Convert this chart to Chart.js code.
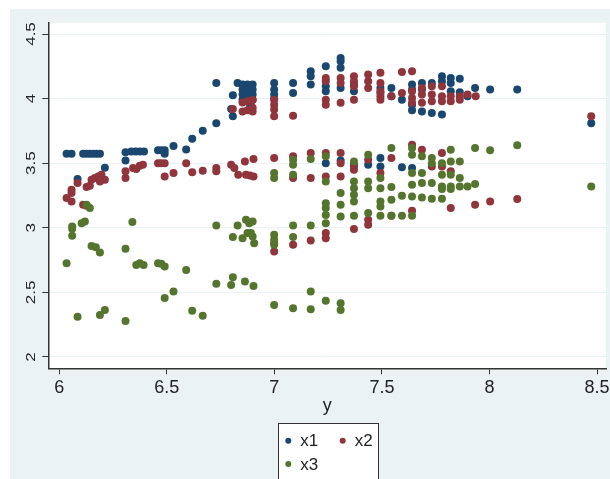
<!DOCTYPE html>
<html>
<head>
<meta charset="utf-8">
<script src="https://cdn.jsdelivr.net/npm/chart.js@4.4.1/dist/chart.umd.min.js"></script>
<style>
  body { margin: 0; background: #fff; }
  #wrap { width: 610px; height: 479px; }
</style>
</head>
<body>
<div id="wrap"><canvas id="scatterChart" width="610" height="479"></canvas></div>
<script>
// points are [y, value] pairs, y on the horizontal axis
const x1 = [
    [6.034, 3.574], [6.057, 3.574], [6.111, 3.574], [6.127, 3.574], [6.142, 3.574], [6.157, 3.574], [6.173, 3.574], [6.189, 3.574],
    [6.085, 3.377], [6.212, 3.465], [6.308, 3.584], [6.308, 3.52],
    [6.335, 3.59], [6.355, 3.59], [6.374, 3.59], [6.394, 3.59],
    [6.459, 3.6], [6.474, 3.6], [6.49, 3.6], [6.49, 3.574],
    [6.531, 3.633], [6.59, 3.607], [6.618, 3.69], [6.667, 3.752], [6.73, 3.809], [6.73, 4.12],
    [6.807, 4.026], [6.799, 3.92], [6.807, 3.863], [6.829, 4.12],
    [6.852, 4.109], [6.875, 4.109], [6.899, 4.109], [6.852, 4.07], [6.875, 4.07], [6.899, 4.07],
    [6.852, 4.031], [6.875, 4.031], [6.899, 4.031], [6.852, 3.992], [6.875, 3.992], [6.899, 3.992], [6.887, 3.953],
    [6.999, 4.12], [6.999, 4.07], [6.999, 4.031], [6.999, 4.0],
    [7.087, 4.12], [7.087, 4.044],
    [7.169, 4.212], [7.169, 4.173], [7.169, 4.109],
    [7.239, 4.25], [7.239, 4.095], [7.239, 4.057],
    [7.308, 4.315], [7.308, 4.289], [7.308, 4.238], [7.308, 4.083],
    [7.37, 4.109], [7.37, 4.057],
    [7.493, 4.083], [7.493, 4.044], [7.544, 4.083], [7.544, 4.018], [7.593, 3.992],
    [7.64, 4.109], [7.64, 4.07], [7.64, 3.953], [7.64, 3.91],
    [7.686, 4.12], [7.686, 4.07], [7.686, 3.901],
    [7.732, 4.12], [7.732, 3.889],
    [7.779, 4.173], [7.779, 4.134], [7.779, 3.876],
    [7.82, 4.16], [7.82, 4.12], [7.82, 4.057],
    [7.862, 4.153], [7.862, 4.049], [7.898, 4.018], [7.933, 4.083],
    [8.003, 4.07], [8.129, 4.07], [8.473, 3.81],
    [7.239, 3.5], [7.308, 3.52], [7.37, 3.488], [7.436, 3.488], [7.493, 3.54], [7.493, 3.475], [7.593, 3.468], [7.64, 3.463]
];
const x2 = [
    [6.034, 3.23], [6.057, 3.295], [6.057, 3.269], [6.057, 3.204], [6.085, 3.346], [6.111, 3.178], [6.127, 3.17],
    [6.127, 3.315], [6.142, 3.326], [6.15, 3.372], [6.165, 3.385], [6.181, 3.398], [6.196, 3.411], [6.189, 3.359], [6.212, 3.372],
    [6.308, 3.437], [6.308, 3.385], [6.343, 3.463], [6.358, 3.455], [6.374, 3.481], [6.389, 3.488],
    [6.459, 3.5], [6.474, 3.5], [6.49, 3.5], [6.49, 3.398], [6.531, 3.424], [6.59, 3.5], [6.618, 3.429], [6.667, 3.442],
    [6.73, 3.463], [6.73, 3.437], [6.799, 3.488], [6.814, 3.463], [6.832, 3.411], [6.807, 3.92],
    [6.863, 3.514], [6.868, 3.411], [6.886, 3.405], [6.903, 3.398], [6.903, 3.532],
    [6.852, 3.97], [6.875, 3.98], [6.899, 3.99], [6.852, 3.9], [6.875, 3.91], [6.899, 3.93], [6.899, 3.9],
    [6.999, 3.992], [6.999, 3.953], [6.999, 3.915], [6.999, 3.863], [7.087, 3.868],
    [7.239, 4.16], [7.239, 4.134], [7.239, 3.992], [7.239, 3.953],
    [7.308, 4.16], [7.308, 4.12], [7.308, 3.967],
    [7.37, 4.173], [7.37, 4.134], [7.37, 4.095], [7.37, 3.992],
    [7.436, 4.186], [7.436, 4.134], [7.436, 4.083],
    [7.493, 4.2], [7.493, 4.12], [7.493, 4.057], [7.493, 4.018], [7.493, 3.992],
    [7.544, 4.018], [7.593, 4.205], [7.593, 4.044],
    [7.64, 4.212], [7.64, 4.057], [7.64, 4.005], [7.64, 3.967],
    [7.686, 4.083], [7.686, 4.031], [7.686, 3.967],
    [7.732, 4.095], [7.732, 4.031], [7.732, 3.979],
    [7.779, 4.095], [7.779, 4.018], [7.779, 3.979],
    [7.82, 4.018], [7.82, 3.979], [7.862, 4.018], [7.862, 3.992], [7.898, 4.031], [7.936, 4.018],
    [8.473, 3.863],
    [6.999, 3.54], [7.087, 3.553], [7.087, 3.385], [7.169, 3.579], [7.169, 3.385], [7.239, 3.579], [7.239, 3.398],
    [7.308, 3.579], [7.308, 3.5], [7.308, 3.398], [7.37, 3.475], [7.37, 3.45], [7.436, 3.527], [7.493, 3.424],
    [7.544, 3.54], [7.64, 3.643], [7.686, 3.605], [7.732, 3.475], [7.779, 3.579], [7.779, 3.475], [7.82, 3.437],
    [6.999, 2.881], [6.999, 2.816], [7.087, 2.868], [7.169, 2.902], [7.239, 2.959], [7.239, 2.92], [7.37, 2.99],
    [7.436, 3.062], [7.436, 3.023], [7.544, 3.093], [7.64, 3.132], [7.82, 3.153], [7.933, 3.178], [8.003, 3.204], [8.129, 3.222]
];
const x3 = [
    [6.127, 3.178], [6.142, 3.153], [6.06, 3.01], [6.06, 2.992], [6.06, 2.938], [6.104, 3.036], [6.119, 3.049], [6.34, 3.044],
    [6.034, 2.726], [6.15, 2.86], [6.17, 2.85], [6.189, 2.808], [6.308, 2.837],
    [6.358, 2.713], [6.374, 2.726], [6.392, 2.713], [6.459, 2.726], [6.474, 2.721], [6.49, 2.7], [6.59, 2.674],
    [6.49, 2.457], [6.531, 2.506], [6.085, 2.312], [6.189, 2.326], [6.212, 2.364], [6.308, 2.279], [6.618, 2.357], [6.667, 2.32],
    [6.73, 3.018], [6.73, 2.566], [6.799, 2.558], [6.807, 2.618], [6.807, 2.928], [6.829, 3.018],
    [6.852, 2.92], [6.868, 3.062], [6.883, 3.036], [6.899, 3.049], [6.899, 2.933], [6.906, 2.881], [6.875, 2.959], [6.891, 2.959],
    [6.863, 2.584], [6.903, 2.55],
    [6.999, 2.946], [6.999, 2.907], [6.999, 2.868], [6.999, 2.403],
    [7.087, 3.018], [7.087, 2.928], [7.087, 2.377],
    [7.169, 3.018], [7.169, 2.506], [7.169, 2.369],
    [7.239, 2.436], [7.308, 2.416], [7.308, 2.364],
    [6.999, 3.424], [6.999, 3.385], [7.087, 3.527], [7.087, 3.488], [7.087, 3.411], [7.169, 3.532], [7.239, 3.553], [7.239, 3.359],
    [7.308, 3.269], [7.308, 3.178], [7.308, 3.088],
    [7.239, 3.19], [7.239, 3.153], [7.239, 3.1], [7.239, 3.036],
    [7.37, 3.514], [7.37, 3.359], [7.37, 3.307], [7.37, 3.256], [7.37, 3.204], [7.37, 3.093],
    [7.436, 3.566], [7.436, 3.359], [7.436, 3.307], [7.436, 3.114],
    [7.493, 3.385], [7.493, 3.307], [7.493, 3.204], [7.493, 3.165], [7.493, 3.093],
    [7.544, 3.618], [7.544, 3.315], [7.544, 3.217], [7.544, 3.093],
    [7.593, 3.248], [7.593, 3.093],
    [7.64, 3.618], [7.64, 3.566], [7.64, 3.424], [7.64, 3.333], [7.64, 3.243], [7.64, 3.093],
    [7.686, 3.553], [7.686, 3.424], [7.686, 3.346], [7.686, 3.235],
    [7.732, 3.54], [7.732, 3.5], [7.732, 3.346], [7.732, 3.225],
    [7.779, 3.5], [7.779, 3.411], [7.779, 3.32], [7.779, 3.3], [7.779, 3.225],
    [7.82, 3.605], [7.82, 3.514], [7.82, 3.411], [7.82, 3.32], [7.82, 3.3],
    [7.862, 3.514], [7.862, 3.385], [7.862, 3.32], [7.898, 3.32],
    [7.933, 3.618], [7.933, 3.339], [8.003, 3.6], [8.129, 3.638], [8.473, 3.32]
];
const xTicks = [6, 6.5, 7, 7.5, 8, 8.5];
const yTicks = [2, 2.5, 3, 3.5, 4, 4.5];

const seriesNames = ['x1', 'x2', 'x3'];
const seriesColors = ['#1a476f', '#90353b', '#55752f'];
const bgColor = '#eaf2f3';
const axisColor = '#333333';
const textColor = '#222222';

const toPoints = arr => arr.map(p => ({ x: p[0], y: p[1] }));

const backgroundPlugin = {
    id: 'stataBackground',
    beforeDraw(chart) {
        const { ctx, chartArea } = chart;
        ctx.save();
        ctx.fillStyle = '#ffffff';
        ctx.fillRect(0, 0, chart.width, chart.height);
        ctx.fillStyle = bgColor;
        ctx.fillRect(10, 9, chart.width - 10, chart.height - 9);
        ctx.fillStyle = '#ffffff';
        ctx.fillRect(chartArea.left, chartArea.top, chartArea.right - chartArea.left, chartArea.bottom - chartArea.top);
        ctx.restore();
    }
};

// vertical tick labels on the y axis, like Stata draws them
const yLabelPlugin = {
    id: 'yLabels',
    afterDraw(chart) {
        const { ctx } = chart;
        const yScale = chart.scales.y;
        ctx.save();
        ctx.fillStyle = textColor;
        ctx.font = '17px "Liberation Sans", Arial, sans-serif';
        ctx.textAlign = 'center';
        ctx.textBaseline = 'middle';
        yTicks.forEach(v => {
            const py = yScale.getPixelForValue(v);
            ctx.save();
            ctx.translate(31, py);
            ctx.scale(0.8, 1);
            ctx.rotate(-Math.PI / 2);
            ctx.fillText(String(v), 0, 0);
            ctx.restore();
        });
        ctx.restore();
    }
};

const legendPlugin = {
    id: 'boxLegend',
    afterDraw(chart) {
        const { ctx } = chart;
        const box = { x: 278.5, y: 423.5, w: 100, h: 60 };
        ctx.save();
        ctx.fillStyle = '#ffffff';
        ctx.fillRect(box.x, box.y, box.w, box.h);
        ctx.strokeStyle = axisColor;
        ctx.lineWidth = 1;
        ctx.strokeRect(box.x, box.y, box.w, box.h);
        const slots = [[288.3, 440.7], [342.7, 440.7], [288.3, 464]];
        ctx.font = '17px "Liberation Sans Narrow", "Arial Narrow", sans-serif';
        ctx.textBaseline = 'middle';
        ctx.textAlign = 'left';
        chart.data.datasets.forEach((ds, i) => {
            const [cx, cy] = slots[i];
            ctx.fillStyle = ds.backgroundColor;
            ctx.beginPath();
            ctx.arc(cx, cy, 3, 0, Math.PI * 2);
            ctx.fill();
            ctx.fillStyle = textColor;
            ctx.fillText(ds.label, cx + 12, cy + 1);
        });
        ctx.restore();
    }
};

const ctx = document.getElementById('scatterChart').getContext('2d');
new Chart(ctx, {
    type: 'scatter',
    data: {
        datasets: [x1, x2, x3].map((arr, i) => ({
            label: seriesNames[i],
            data: toPoints(arr),
            backgroundColor: seriesColors[i],
            borderColor: seriesColors[i],
            borderWidth: 0,
            pointRadius: 4,
            order: 3 - i
        }))
    },
    options: {
        responsive: false,
        animation: false,
        devicePixelRatio: 1,
        layout: {
            padding: { left: 10, right: 2, top: 22.7, bottom: 58.6 }
        },
        plugins: {
            legend: { display: false },
            tooltip: { enabled: false }
        },
        scales: {
            x: {
                type: 'linear',
                min: 5.949,
                max: 8.5417,
                afterBuildTicks: scale => { scale.ticks = xTicks.map(v => ({ value: v })); },
                afterFit: scale => {
                    scale.height = 52.1;
                    scale.paddingLeft = 0;
                    scale.paddingRight = 0;
                },
                ticks: {
                    color: textColor,
                    padding: 3,
                    maxRotation: 0,
                    font: { family: '"Liberation Sans Narrow", "Arial Narrow", sans-serif', size: 18 },
                    callback: v => String(v)
                },
                grid: {
                    drawOnChartArea: false,
                    drawTicks: true,
                    tickLength: 6,
                    tickColor: axisColor,
                    tickWidth: 1
                },
                border: { display: true, color: axisColor, width: 1.5 },
                title: {
                    display: true,
                    text: 'y',
                    color: textColor,
                    padding: { top: 4, bottom: 4 },
                    font: { family: '"Liberation Sans Narrow", "Arial Narrow", sans-serif', size: 18 }
                }
            },
            y: {
                type: 'linear',
                min: 1.9125,
                max: 4.5875,
                afterBuildTicks: scale => { scale.ticks = yTicks.map(v => ({ value: v })); },
                afterFit: scale => {
                    scale.width = 38.3;
                    scale.paddingTop = 0;
                    scale.paddingBottom = 0;
                },
                ticks: { display: false },
                grid: {
                    color: bgColor,
                    lineWidth: 1,
                    drawTicks: true,
                    tickLength: 6,
                    tickColor: axisColor,
                    tickWidth: 1
                },
                border: { display: true, color: axisColor, width: 1.5 }
            }
        }
    },
    plugins: [backgroundPlugin, yLabelPlugin, legendPlugin]
});
</script>
</body>
</html>
